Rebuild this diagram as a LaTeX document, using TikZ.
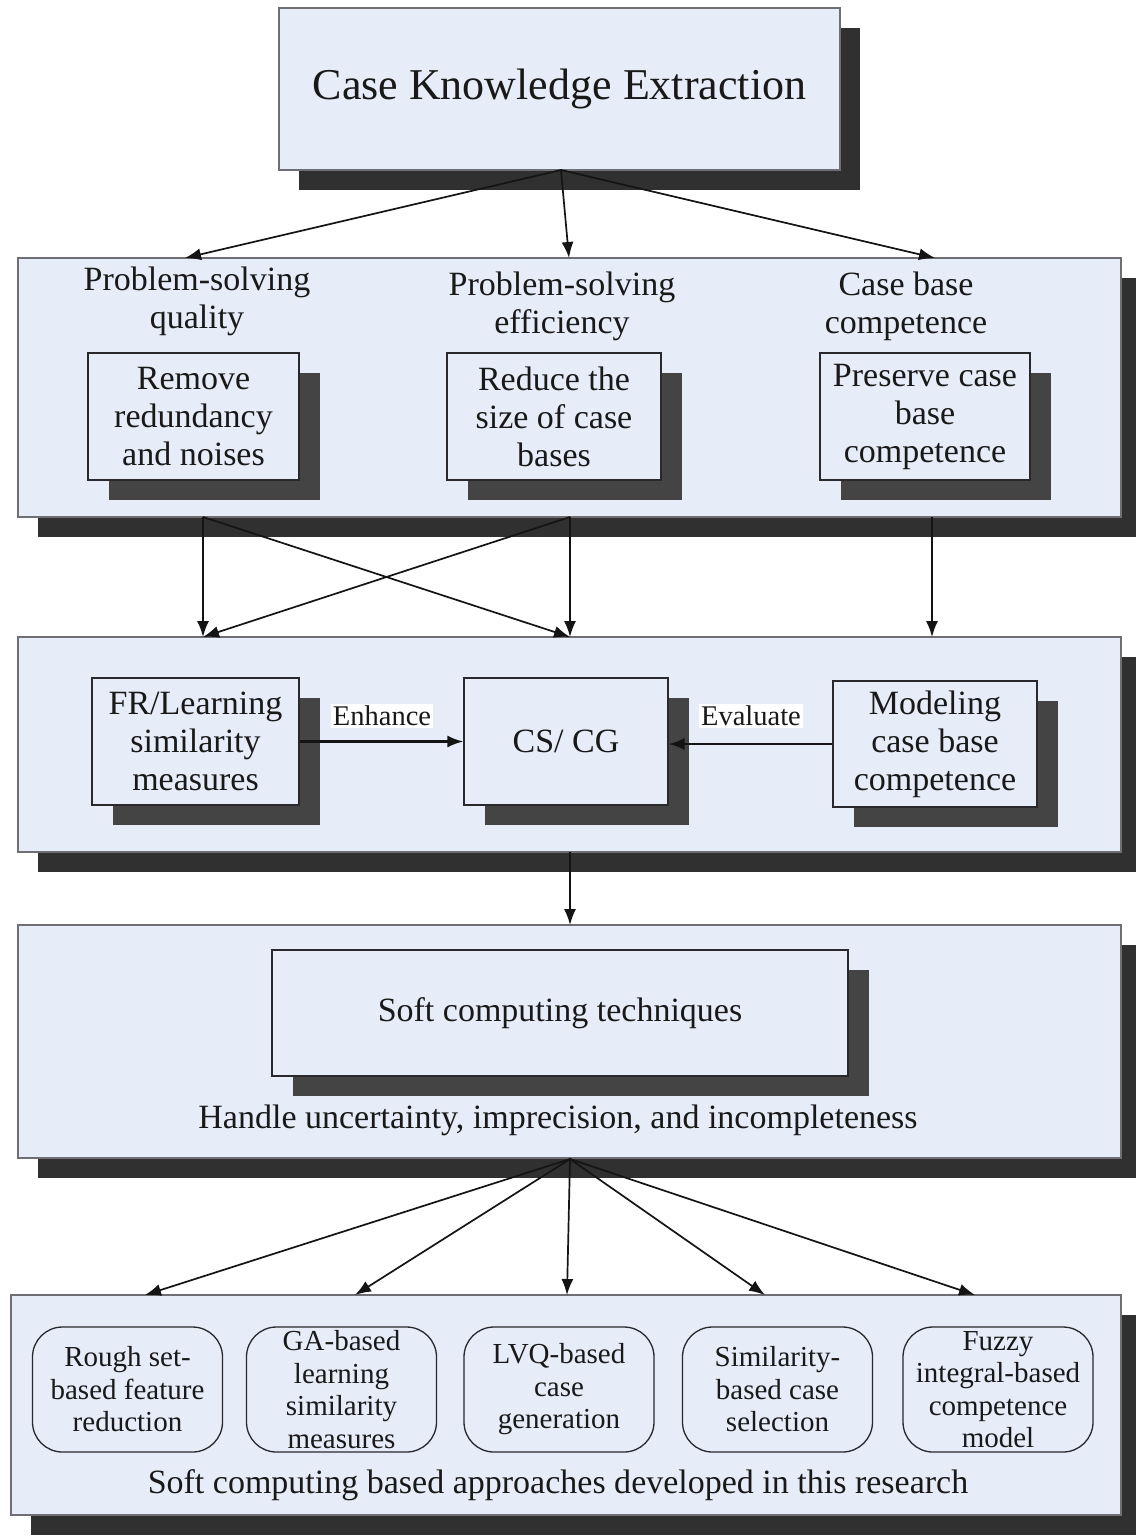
\documentclass[tikz,border=0pt]{standalone}
\usepackage{fontspec}
\setmainfont{Liberation Serif}
\usetikzlibrary{shadows,arrows.meta}
\definecolor{boxfill}{RGB}{230,236,248}
\definecolor{shbig}{RGB}{48,48,48}
\definecolor{shsmall}{RGB}{68,68,68}
\definecolor{txt}{RGB}{25,25,25}
\begin{document}
\begin{tikzpicture}[x=1pt,y=-1pt,
  bigbox/.style={draw={rgb,255:red,110;green,110;blue,115}, line width=1.6pt, fill=boxfill, inner sep=0pt,
    drop shadow={shadow xshift=20pt, shadow yshift=-20pt, fill=shbig, opacity=1}},
  inbox/.style={draw={rgb,255:red,40;green,40;blue,45}, line width=1.3pt, fill=boxfill, inner sep=0pt, align=center, text=txt,
    font=\fontsize{34}{38}\selectfont,
    drop shadow={shadow xshift=21pt, shadow yshift=-20pt, fill=shsmall, opacity=1}},
  rbox/.style={draw={rgb,255:red,40;green,40;blue,45}, line width=1.3pt, fill=boxfill, rounded corners=30pt, inner sep=0pt,
    minimum width=190pt, minimum height=125pt, align=center, text=txt, font=\fontsize{29}{32.5}\selectfont},
  head/.style={align=center, text=txt, font=\fontsize{34}{38}\selectfont, inner sep=0pt},
  lbl/.style={fill=white, text=txt, font=\fontsize{28.5}{31}\selectfont, inner sep=2pt},
  arr/.style={line width=1.7pt, draw={rgb,255:red,20;green,20;blue,20}, -{Latex[length=16pt,width=12pt]}}
]
\useasboundingbox[fill=white] (0,0) rectangle (1135,1536);

% top
\node[bigbox, minimum width=561pt, minimum height=162pt, text=txt, font=\fontsize{44}{48}\selectfont] (top) at (559.5,89) {Case Knowledge Extraction};

% level 2
\node[bigbox, minimum width=1103pt, minimum height=259pt] (L2) at (569.5,387.5) {};
\node[head] (h1) at (197,301) {Problem-solving\\quality};
\node[head] (h2) at (562,306) {Problem-solving\\efficiency};
\node[head] (h3) at (906,306) {Case base\\competence};
\node[inbox, minimum width=211pt, minimum height=127pt] (A) at (193.5,416.5) {Remove\\redundancy\\and noises};
\node[inbox, minimum width=214pt, minimum height=127pt] (B) at (554,416.5) {Reduce the\\size of case\\bases};
\node[inbox, minimum width=210pt, minimum height=127pt] (C) at (925,416.5) {Preserve case\\base\\competence};

% level 3
\node[bigbox, minimum width=1103pt, minimum height=215pt] (L3) at (569.5,744.5) {};
\node[inbox, minimum width=207pt, minimum height=127pt] (FR) at (195.5,741.5) {FR/Learning\\similarity\\measures};
\node[inbox, minimum width=204pt, minimum height=127pt] (CS) at (566,741.5) {CS/ CG};
\node[inbox, minimum width=204pt, minimum height=126pt] (MOD) at (935,744) {Modeling\\case base\\competence};

% level 4
\node[bigbox, minimum width=1103pt, minimum height=233pt] (L4) at (569.5,1041.5) {};
\node[inbox, minimum width=576pt, minimum height=126pt] (SC) at (560,1013) {Soft computing techniques};
\node[head] (hu) at (558,1120) {Handle uncertainty, imprecision, and incompleteness};

% level 5
\node[bigbox, minimum width=1110pt, minimum height=220pt] (L5) at (566,1405) {};
\node[rbox] (r1) at (127.5,1389.5) {Rough set-\\based feature\\reduction};
\node[rbox] (r2) at (341.5,1389.5) {GA-based\\learning\\similarity\\measures};
\node[rbox] (r3) at (559,1389.5) {LVQ-based\\case\\generation};
\node[rbox] (r4) at (777.5,1389.5) {Similarity-\\based case\\selection};
\node[rbox] (r5) at (998,1389.5) {Fuzzy\\integral-based\\competence\\model};
\node[head] (sa) at (558,1485) {Soft computing based approaches developed in this research};

% coordinates
\coordinate (t0) at (561,170);
\coordinate (t1) at (185,258);
\coordinate (t2) at (569,258);
\coordinate (t3) at (935,258);
\coordinate (s1) at (203,517);
\coordinate (s2) at (570,517);
\coordinate (s3) at (932,517);
\coordinate (d1) at (203,637);
\coordinate (d2) at (570,637);
\coordinate (d3) at (932,637);
\coordinate (u0) at (570,852);
\coordinate (u1) at (570,925);
\coordinate (b0) at (570,1159);
\coordinate (b1) at (145,1295);
\coordinate (b2) at (355,1295);
\coordinate (b3) at (567,1295);
\coordinate (b4) at (765,1295);
\coordinate (b5) at (975,1295);

% arrows
\draw[arr] (t0) -- (t1);
\draw[arr] (t0) -- (t2);
\draw[arr] (t0) -- (t3);
\draw[arr] (s1) -- (d1);
\draw[arr] (s1) -- (d2);
\draw[arr] (s2) -- (d2);
\draw[arr] (s2) -- (d1);
\draw[arr] (s3) -- (d3);
\draw[arr] (u0) -- (u1);
\draw[arr] (b0) -- (b1);
\draw[arr] (b0) -- (b2);
\draw[arr] (b0) -- (b3);
\draw[arr] (b0) -- (b4);
\draw[arr] (b0) -- (b5);

\draw[arr, line width=2.2pt] (FR.east) -- (FR.east -| CS.west);
\draw[arr, line width=2.2pt] (MOD.west) -- (MOD.west -| CS.east);
\node[lbl] (en) at (382,716) {Enhance};
\node[lbl] (ev) at (751,716) {Evaluate};
\end{tikzpicture}
\end{document}
